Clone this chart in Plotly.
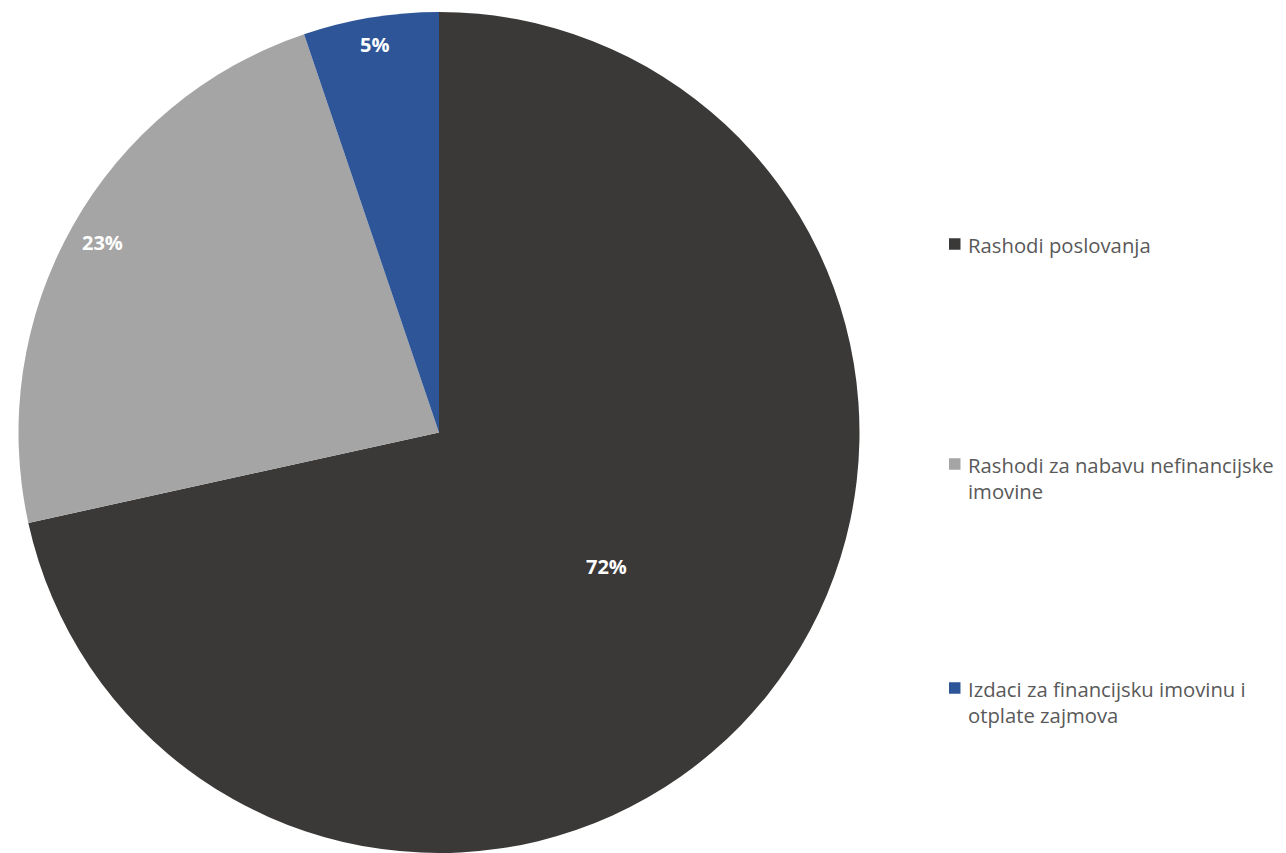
import math
import plotly.graph_objects as go

labels = ["Rashodi poslovanja", "Rashodi za nabavu nefinancijske imovine",
          "Izdaci za financijsku imovinu i otplate zajmova"]
legend_text = ["Rashodi poslovanja", "Rashodi za nabavu nefinancijske<br>imovine",
               "Izdaci za financijsku imovinu i<br>otplate zajmova"]
values = [71.55, 23.25, 5.2]
colors = ["#3a3937", "#a5a5a5", "#2e5597"]
label_radius = [0.51, 0.92, 0.936]   # relative radius of the % labels

# page has an 8px body margin; compensate so the figure fits the 1286x853 window
OFF = 8
W, H = 1286 - OFF, 853 - OFF

# pie geometry (figure pixels)
cx, cy, R = 439 - OFF, 432.5 - OFF, 420.5

fig = go.Figure()
fig.add_trace(go.Pie(
    labels=labels, values=values, sort=False, direction="clockwise", rotation=0,
    marker=dict(colors=colors, line=dict(width=0)),
    textinfo="none",
    domain=dict(x=[(cx - R) / W, (cx + R) / W], y=[1 - (cy + R) / H, 1 - (cy - R) / H]),
    showlegend=False, hoverinfo="label+percent",
))

# percentage labels, positioned from the cumulative values
total = sum(values)
cum = 0.0
for v, rf in zip(values, label_radius):
    mid = (cum + v / 2) / total * 2 * math.pi
    cum += v
    px = cx + rf * R * math.sin(mid)
    py = cy - rf * R * math.cos(mid)
    fig.add_annotation(xref="paper", yref="paper", x=px / W, y=1 - py / H,
                       xanchor="center", yanchor="middle", showarrow=False,
                       text="<b>%s</b>" % format(v / total, ".0%"),
                       font=dict(family="Open Sans", size=20, color="white"))

# legend drawn as squares + text
leg_y = [244, 464, 688]
for lab, col, yy in zip(legend_text, colors, leg_y):
    y = yy - OFF
    fig.add_shape(type="rect", xref="paper", yref="paper",
                  x0=(949 - OFF) / W, x1=(960.5 - OFF) / W,
                  y0=1 - (y + 5.75) / H, y1=1 - (y - 5.75) / H,
                  fillcolor=col, line=dict(width=0))
    fig.add_annotation(xref="paper", yref="paper", x=(966 - OFF) / W, y=1 - (y - 15) / H,
                       xanchor="left", yanchor="top", align="left", showarrow=False,
                       text=lab, font=dict(family="Open Sans", size=20.3, color="#595959"))

fig.update_layout(width=W, height=H, margin=dict(l=0, r=0, t=0, b=0),
                  paper_bgcolor="white", plot_bgcolor="white")
fig.write_html("out.html")
